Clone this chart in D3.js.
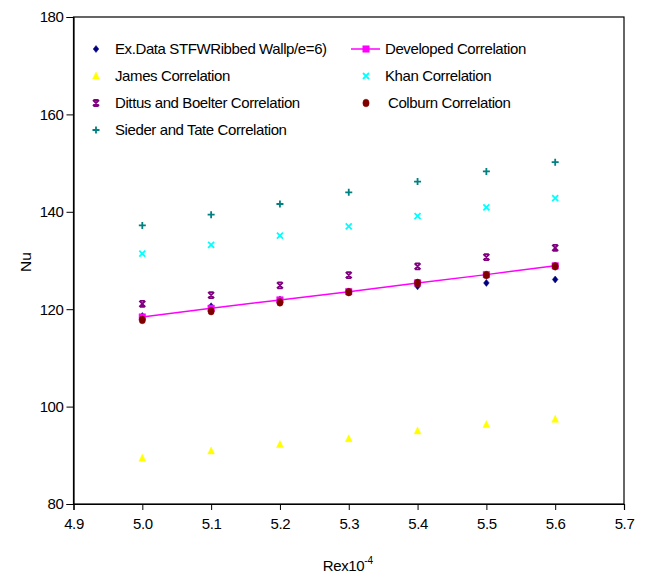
<!DOCTYPE html>
<html><head><meta charset="utf-8">
<script src="https://cdn.jsdelivr.net/npm/d3@7"></script>
<style>
html,body{margin:0;padding:0;background:#fff;}
text{font-family:"Liberation Sans",Arial,sans-serif;fill:#000;}
</style></head>
<body><svg id="c" width="649" height="579"></svg>
<script>
const reValues = [5.0, 5.1, 5.2, 5.3, 5.4, 5.5, 5.6];
const exData   = [118.6, 120.6, 122.0, 123.5, 124.7, 125.4, 126.1];
const developed= [118.4, 120.2, 121.9, 123.6, 125.4, 127.1, 128.9];
const james    = [89.4, 90.9, 92.2, 93.4, 95.0, 96.3, 97.4];
const khan     = [131.4, 133.2, 135.1, 137.0, 139.1, 140.9, 142.8];
const dittus   = [121.1, 122.9, 124.9, 127.0, 128.8, 130.7, 132.6];
const colburn  = [117.8, 119.6, 121.4, 123.5, 125.4, 127.0, 128.8];
const sieder   = [137.2, 139.4, 141.6, 144.0, 146.2, 148.3, 150.2];
const xTicks = [4.9, 5.0, 5.1, 5.2, 5.3, 5.4, 5.5, 5.6, 5.7];
const yTicks = [80, 100, 120, 140, 160, 180];

const svg = d3.select("#c");
const L = 73.5, R = 624, T = 17, B = 504;
const x = d3.scaleLinear().domain([4.9, 5.7]).range([L, R]);
const y = d3.scaleLinear().domain([80, 180]).range([B, T]);
const FS = "15px", LS = "-0.4px";

// frame
svg.append("rect").attr("x", L).attr("y", T).attr("width", R - L).attr("height", B - T)
  .attr("fill", "none").attr("stroke", "#000").attr("stroke-width", 1.2);

// axes
const xa = svg.append("g").attr("transform", `translate(0,${B})`)
  .call(d3.axisBottom(x).tickValues(xTicks).tickFormat(d3.format(".1f")).tickSize(6).tickPadding(8));
const ya = svg.append("g").attr("transform", `translate(${L},0)`)
  .call(d3.axisLeft(y).tickValues(yTicks).tickFormat(d3.format("d")).tickSize(7).tickPadding(3));
[xa, ya].forEach(a => {
  a.select(".domain").attr("stroke", "#000").attr("stroke-width", 1.2);
  a.selectAll(".tick line").attr("stroke", "#000");
  a.selectAll("text").style("font-size", FS).style("letter-spacing", LS)
    .style("font-family", '"Liberation Sans",Arial,sans-serif').attr("fill", "#000");
});

// axis titles
const xt = svg.append("text").attr("x", 348).attr("y", 571).attr("text-anchor", "middle")
  .style("font-size", FS).style("letter-spacing", LS);
xt.append("tspan").text("Rex10");
xt.append("tspan").attr("dy", -7).style("font-size", "10px").style("letter-spacing", "0px").text("-4");
svg.append("text").attr("transform", "translate(31,262) rotate(-90)").attr("text-anchor", "middle")
  .style("font-size", "15.5px").text("Nu");

// marker generators
function markerPath(type, s) {
  const h = s / 2;
  switch (type) {
    case "diamond": return `M0,${-h}L${h*0.8},0L0,${h}L${-h*0.8},0Z`;
    case "triangle": return `M0,${-h}L${h*0.85},${h*0.75}L${-h*0.85},${h*0.75}Z`;
    case "square": return `M${-h},${-h}H${h}V${h}H${-h}Z`;
    case "circle": return `M0,${-h*1.1}A${h*0.9},${h*1.1} 0 1,1 0,${h*1.1}A${h*0.9},${h*1.1} 0 1,1 0,${-h*1.1}Z`;
    case "x": return `M${-h},${-h}L${h},${h}M${h},${-h}L${-h},${h}`;
    case "plus": return `M${-h},0H${h}M0,${-h}V${h}`;
    case "star": return `M${-h},${-h}L${h},${h}M${h},${-h}L${-h},${h}M${-h*0.8},${-h}H${h*0.8}M${-h*0.8},${h}H${h*0.8}`;
  }
}
const filled = {diamond: true, triangle: true, square: true, circle: true, x: false, plus: false, star: false};

const series = [
  {name: "Ex.Data STFWRibbed Wallp/e=6)", vals: exData, color: "#000080", mk: "diamond", size: 7, line: false},
  {name: "Developed Correlation", vals: developed, color: "#FF00FF", mk: "square", size: 6.5, line: true},
  {name: "James Correlation", vals: james, color: "#FFFF00", mk: "triangle", size: 8, line: false},
  {name: "Khan Correlation", vals: khan, color: "#00FFFF", mk: "x", size: 6, line: false},
  {name: "Dittus and Boelter Correlation", vals: dittus, color: "#800080", mk: "star", size: 6, line: false},
  {name: "Colburn Correlation", vals: colburn, color: "#800000", mk: "circle", size: 7, line: false},
  {name: "Sieder and Tate Correlation", vals: sieder, color: "#008080", mk: "plus", size: 7, line: false}
];

function drawMarker(g, s, cx, cy) {
  const p = g.append("path").attr("d", markerPath(s.mk, s.size)).attr("transform", `translate(${cx},${cy})`);
  if (filled[s.mk]) p.attr("fill", s.color).attr("stroke", s.color).attr("stroke-width", 0.5);
  else p.attr("fill", "none").attr("stroke", s.color).attr("stroke-width", 1.8);
}

const plot = svg.append("g");
series.forEach(s => {
  const g = plot.append("g");
  if (s.line) {
    g.append("path").datum(s.vals.map((v, i) => [reValues[i], v]))
      .attr("d", d3.line().x(d => x(d[0])).y(d => y(d[1])))
      .attr("fill", "none").attr("stroke", s.color).attr("stroke-width", 1.5);
  }
  s.vals.forEach((v, i) => drawMarker(g, s, x(reValues[i]), y(v)));
});

// legend
const legendPos = [
  [0, 96, 115, 49], [1, 366, 385, 49],
  [2, 96, 115, 76], [3, 366, 385, 76],
  [4, 96, 115, 103], [5, 366, 388, 103],
  [6, 96, 115, 130]
];
const lg = svg.append("g");
legendPos.forEach(([i, mx, tx, ly]) => {
  const s = series[i];
  if (s.line) lg.append("line").attr("x1", mx - 15).attr("x2", mx + 14).attr("y1", ly).attr("y2", ly)
    .attr("stroke", s.color).attr("stroke-width", 1.5);
  drawMarker(lg, s, mx, ly);
  lg.append("text").attr("x", tx).attr("y", ly + 5).style("font-size", FS)
    .style("letter-spacing", LS).text(s.name);
});
</script></body></html>
